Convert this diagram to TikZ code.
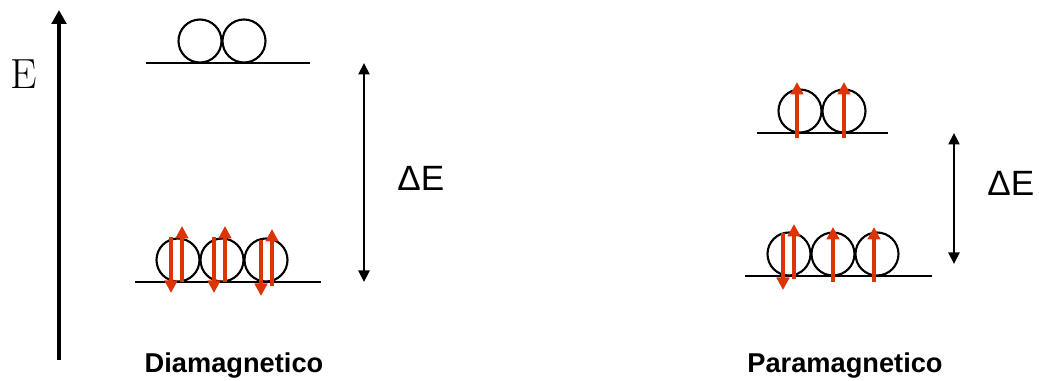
\documentclass[tikz,border=0pt]{standalone}
\usepackage{fontspec}
\setsansfont{Liberation Sans}
\usepackage{tikz}
\usetikzlibrary{arrows.meta, positioning, calc}
\usepackage{xcolor}
\definecolor{spinred}{RGB}{221,52,6}

\begin{document}
\begin{tikzpicture}[x=0.02cm, y=-0.02cm, every node/.style={font=\sffamily},
  orbital/.style={draw, circle, line width=1.2pt, minimum size=0.86cm, inner sep=0pt},
  level/.style={line width=1.2pt},
  spin/.style={spinred, line width=2.1pt, -{Triangle[width=0.25cm, length=0.25cm]}},
  gap/.style={line width=1.3pt, {Triangle[width=0.22cm, length=0.23cm]}-{Triangle[width=0.22cm, length=0.23cm]}}]
  \useasboundingbox (0,0) rectangle (1039,381);

  % Energy axis
  \coordinate (axbot) at (59,360);
  \coordinate (axtop) at (59,10);
  \draw[line width=2.8pt, -{Triangle[width=0.29cm, length=0.28cm]}] (axbot) -- (axtop);
  \node[font=\rmfamily\fontsize{24}{24}\selectfont, anchor=base west, inner sep=0pt] (elabel) at (10,89) {E};

  % Diamagnetic: upper level
  \coordinate (dtopl) at (146,63);
  \coordinate (dtopr) at (310,63);
  \draw[level] (dtopl) -- (dtopr);
  \node[orbital] (dt1) at (200,41) {};
  \node[orbital] (dt2) at (244,41) {};

  % Diamagnetic: lower level
  \coordinate (dbotl) at (135,282);
  \coordinate (dbotr) at (321,282);
  \draw[level] (dbotl) -- (dbotr);
  \node[orbital] (db1) at (178,260) {};
  \node[orbital] (db2) at (222,260) {};
  \node[orbital] (db3) at (266,260) {};

  \draw[spin] ($(db1)+(-7,-23)$) -- ($(db1)+(-7,33)$);
  \draw[spin] ($(db1)+(4,22)$) -- ($(db1)+(4,-34)$);
  \draw[spin] ($(db2)+(-8,-23)$) -- ($(db2)+(-8,33)$);
  \draw[spin] ($(db2)+(3,22)$) -- ($(db2)+(3,-34)$);
  \draw[spin] ($(db3)+(-5,-20)$) -- ($(db3)+(-5,36)$);
  \draw[spin] ($(db3)+(6,26)$) -- ($(db3)+(6,-31)$);

  % Diamagnetic gap
  \coordinate (dgaptop) at (364,63);
  \coordinate (dgapbot) at (364,282);
  \draw[gap] (dgaptop) -- (dgapbot);
  \node[font=\sffamily\fontsize{20}{20}\selectfont, anchor=base west, inner sep=0pt] (dgap) at (397,191) {ΔE};
  \node[font=\sffamily\bfseries\fontsize{15.5}{15.5}\selectfont, anchor=base] (dia) at (234,373) {Diamagnetico};

  % Paramagnetic: upper level
  \coordinate (ptopl) at (757,133);
  \coordinate (ptopr) at (888,133);
  \draw[level] (ptopl) -- (ptopr);
  \node[orbital] (pt1) at (800,111) {};
  \node[orbital] (pt2) at (844,111) {};

  \draw[spin] ($(pt1)+(-3,27)$) -- ($(pt1)+(-3,-29)$);
  \draw[spin] ($(pt2)+(0,27)$) -- ($(pt2)+(0,-29)$);

  % Paramagnetic: lower level
  \coordinate (pbotl) at (745,276);
  \coordinate (pbotr) at (932,276);
  \draw[level] (pbotl) -- (pbotr);
  \node[orbital] (pb1) at (789,254) {};
  \node[orbital] (pb2) at (833,254) {};
  \node[orbital] (pb3) at (877,254) {};

  \draw[spin] ($(pb1)+(-6,-21)$) -- ($(pb1)+(-6,36)$);
  \draw[spin] ($(pb1)+(5,25)$) -- ($(pb1)+(5,-30)$);
  \draw[spin] ($(pb2)+(0,28)$) -- ($(pb2)+(0,-27)$);
  \draw[spin] ($(pb3)+(-3,28)$) -- ($(pb3)+(-3,-27)$);

  % Paramagnetic gap
  \coordinate (pgaptop) at (954,133);
  \coordinate (pgapbot) at (954,264);
  \draw[gap] (pgaptop) -- (pgapbot);
  \node[font=\sffamily\fontsize{20}{20}\selectfont, anchor=base west, inner sep=0pt] (pgap) at (987,196) {ΔE};
  \node[font=\sffamily\bfseries\fontsize{15.5}{15.5}\selectfont, anchor=base] (para) at (845,373) {Paramagnetico};
\end{tikzpicture}
\end{document}
